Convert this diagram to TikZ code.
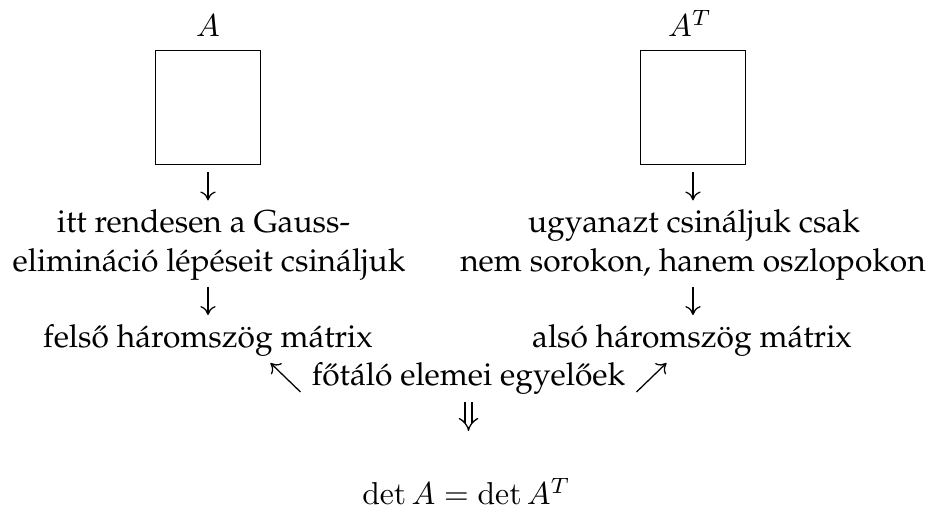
\documentclass[tikz,border=0pt]{standalone}
\usepackage[T1]{fontenc}
\usepackage{palatino}
\usetikzlibrary{arrows.meta}
\begin{document}
\begin{tikzpicture}[x=0.3155pt,y=-0.3155pt,
  txt/.style={inner sep=0pt, anchor=base, font=\fontsize{10}{12}\selectfont},
  matbox/.style={draw, line width=0.45pt, inner sep=0pt, minimum width=33.2pt, minimum height=36.1pt},
  cmar/.style={line width=0.4pt, -{To[length=2.8pt,width=4.8pt]}},
  cmdbl/.style={line width=0.4pt, double, double distance=1.8pt, -{Implies[length=3.4pt]}}]
\useasboundingbox (0,0) rectangle (928,513);
% labels
\node[txt] (lA) at (208,37) {$A$};
\node[txt] (lAT) at (690,37) {$A^T$};
% matrices
\node[matbox] (boxA) at (208,107.5) {};
\node[matbox] (boxAT) at (693,107.5) {};
% left column
\node[txt] (L1) at (203.5,233) {itt rendesen a Gauss-};
\node[txt] (L2) at (209,272) {elimin\'aci\'o l\'ep\'eseit csin\'aljuk};
\node[txt] (felso) at (208,348) {fels\H{o} h\'aromsz\"og m\'atrix};
% right column
\node[txt] (R1) at (694,233) {ugyanazt csin\'aljuk csak};
\node[txt] (R2) at (693,272) {nem sorokon, hanem oszlopokon};
\node[txt] (also) at (692,348) {als\'o h\'aromsz\"og m\'atrix};
% bottom
\node[txt] (fo) at (468.5,385) {f\H{o}t\'al\'o elemei egyel\H{o}ek};
\node[txt] (det) at (466.5,505) {$\det A = \det A^T$};
% connectors
\draw[cmar] (boxA.south) ++(0,7) -- ++(0,28);
\draw[cmar] (boxAT.south) ++(0,7) -- ++(0,28);
\draw[cmar] (boxA.south |- felso.base) ++(0,-61) -- ++(0,28);
\draw[cmar] (boxAT.south |- also.base) ++(0,-61) -- ++(0,28);
\draw[cmar] (fo.base) ++(-168,7) -- ++(-30,-29);
\draw[cmar] (fo.base) ++(168,7) -- ++(30,-29);
\draw[cmdbl] (fo.base) ++(0,17) -- ++(0,29);
\end{tikzpicture}
\end{document}
